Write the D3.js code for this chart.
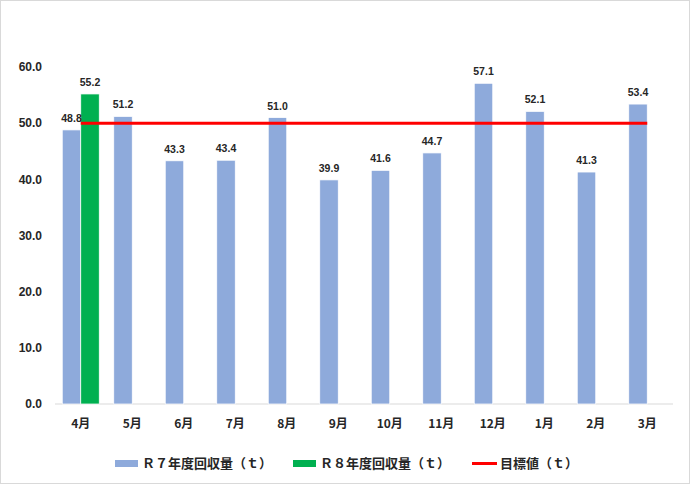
<!DOCTYPE html>
<html>
<head>
<meta charset="utf-8">
<script src="https://cdn.jsdelivr.net/npm/d3@7"></script>
<style>
  body { margin: 0; background: #fff; }
  text { font-family: "Noto Sans CJK JP", "Noto Sans", sans-serif; fill: #262626; }
  .num { font-family: "Liberation Sans", "DejaVu Sans", sans-serif; font-weight: bold; }
</style>
</head>
<body>
<div class="container"></div>
<script>
var months = ['4月', '5月', '6月', '7月', '8月', '9月', '10月', '11月', '12月', '1月', '2月', '3月'];
var r7Values = [48.8, 51.2, 43.3, 43.4, 51.0, 39.9, 41.6, 44.7, 57.1, 52.1, 41.3, 53.4];
var r8Values = [55.2, null, null, null, null, null, null, null, null, null, null, null];
var targetValue = 50;
var yTicks = [0, 10, 20, 30, 40, 50, 60];
var seriesNames = ['Ｒ７年度回収量（ｔ）', 'Ｒ８年度回収量（ｔ）', '目標値（ｔ）'];

const WIDTH = 690;
const HEIGHT = 484;
const LEFT = 55, RIGHT = 673, TOP = 67, BOTTOM = 404;

var svg = d3.select('.container').append('svg')
	.attr('width', WIDTH)
	.attr('height', HEIGHT);

svg.append('rect')
	.attr('x', 0.5).attr('y', 0.5)
	.attr('width', WIDTH - 1).attr('height', HEIGHT - 1)
	.attr('fill', '#fff')
	.attr('stroke', '#d9d9d9');

var xScale = d3.scaleBand().domain(months).range([LEFT, RIGHT]);
var inner = d3.scaleBand().domain(['r7', 'r8']).range([0, 37]);
var yScale = d3.scaleLinear().domain([0, 60]).range([BOTTOM, TOP]);

// y axis labels
svg.selectAll('.ylab').data(yTicks).enter().append('text')
	.attr('class', 'num')
	.attr('x', 42)
	.attr('y', function(d){ return yScale(d); })
	.attr('dy', '0.35em')
	.attr('text-anchor', 'end')
	.attr('font-size', 12)
	.text(function(d){ return d.toFixed(1); });

// baseline
svg.append('line')
	.attr('x1', LEFT).attr('x2', RIGHT)
	.attr('y1', yScale(0)).attr('y2', yScale(0))
	.attr('stroke', '#d9d9d9').attr('stroke-width', 1);

var groupX = function(i){ return xScale(months[i]) + xScale.bandwidth() / 2 - 18.5; };

var r7 = r7Values.map(function(v, i){ return {i: i, v: v}; });
var r8 = r8Values.map(function(v, i){ return {i: i, v: v}; }).filter(function(d){ return d.v != null; });

svg.selectAll('.r7').data(r7).enter().append('rect')
	.attr('x', function(d){ return groupX(d.i) + inner('r7'); })
	.attr('y', function(d){ return yScale(d.v); })
	.attr('width', inner.bandwidth())
	.attr('height', function(d){ return yScale(0) - yScale(d.v); })
	.attr('fill', '#8eaadb')
	.attr('stroke', '#fff').attr('stroke-width', 0.75);

svg.selectAll('.r8').data(r8).enter().append('rect')
	.attr('x', function(d){ return groupX(d.i) + inner('r8'); })
	.attr('y', function(d){ return yScale(d.v); })
	.attr('width', inner.bandwidth())
	.attr('height', function(d){ return yScale(0) - yScale(d.v); })
	.attr('fill', '#00b050')
	.attr('stroke', '#fff').attr('stroke-width', 0.75);

// target line
var line = d3.line()
	.x(function(d, i){ return xScale(months[i]) + xScale.bandwidth() / 2; })
	.y(function(d){ return yScale(d); });

svg.append('path')
	.attr('d', line(months.map(function(){ return targetValue; })))
	.attr('fill', 'none')
	.attr('stroke', '#ff0000')
	.attr('stroke-width', 3);

// value labels
svg.selectAll('.l7').data(r7).enter().append('text')
	.attr('class', 'num')
	.attr('x', function(d){ return groupX(d.i) + inner('r7') + inner.bandwidth() / 2; })
	.attr('y', function(d){ return yScale(d.v) - 8; })
	.attr('text-anchor', 'middle')
	.attr('font-size', 10.5)
	.text(function(d){ return d.v.toFixed(1); });

svg.selectAll('.l8').data(r8).enter().append('text')
	.attr('class', 'num')
	.attr('x', function(d){ return groupX(d.i) + inner('r8') + inner.bandwidth() / 2; })
	.attr('y', function(d){ return yScale(d.v) - 8; })
	.attr('text-anchor', 'middle')
	.attr('font-size', 10.5)
	.text(function(d){ return d.v.toFixed(1); });

// x labels
svg.selectAll('.xlab').data(months).enter().append('text')
	.attr('x', function(d){ return xScale(d) + xScale.bandwidth() / 2; })
	.attr('y', 424)
	.attr('dy', '0.35em')
	.attr('text-anchor', 'middle')
	.attr('font-size', 12)
	.attr('font-weight', 'bold')
	.text(function(d){ return d; });

// legend
var legend = [
	{x: 115, color: '#8eaadb', type: 'rect'},
	{x: 293, color: '#00b050', type: 'rect'},
	{x: 472, color: '#ff0000', type: 'line'}
];
legend.forEach(function(l, i){
	if (l.type === 'rect') {
		svg.append('rect').attr('x', l.x).attr('y', 460).attr('width', 23).attr('height', 7).attr('fill', l.color);
	} else {
		svg.append('line').attr('x1', l.x).attr('x2', l.x + 25).attr('y1', 463.5).attr('y2', 463.5)
			.attr('stroke', l.color).attr('stroke-width', 3);
	}
	svg.append('text')
		.attr('x', l.x + (l.type === 'rect' ? 27 : 28))
		.attr('y', 463.5)
		.attr('dy', '0.35em')
		.attr('font-size', 13)
		.attr('font-weight', 'bold')
		.text(seriesNames[i]);
});
</script>
</body>
</html>
